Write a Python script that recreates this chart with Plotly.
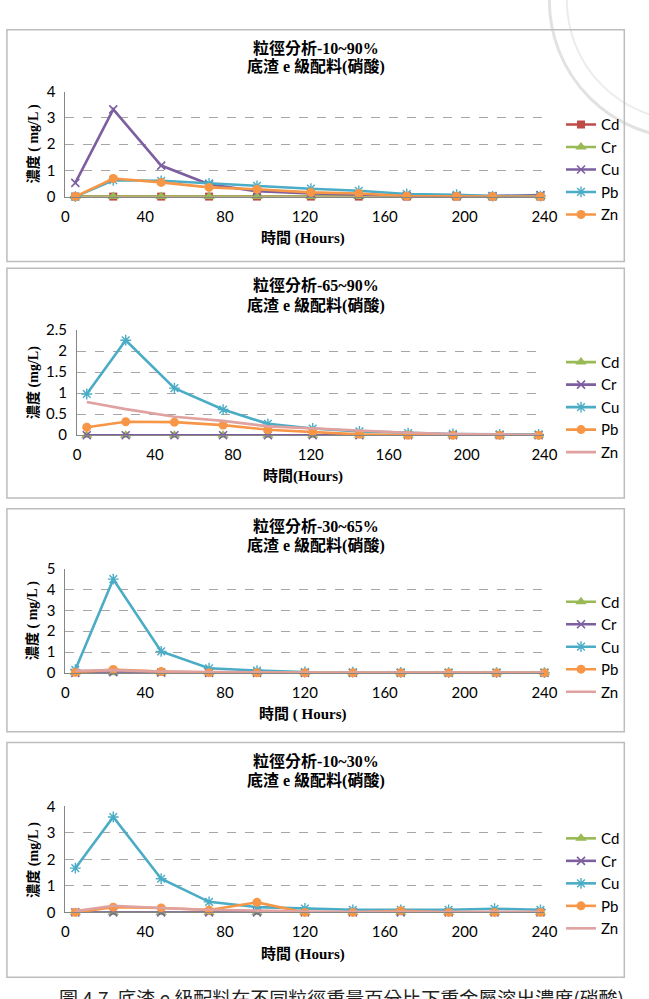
import plotly.graph_objects as go

W, H = 649, 999

def px(x):
    return x / W

def py(y):
    return 1 - y / H

# ---------------- data ----------------
metals = ["Cd", "Cr", "Cu", "Pb", "Zn"]
x_ticks = [0, 40, 80, 120, 160, 200, 240]

# Panel 1: 粒徑分析-10~90%
p1_hours = [5, 24, 48, 72, 96, 123, 147, 171, 196, 214, 238]
p1_Cd = [0, 0, 0, 0, 0, 0, 0, 0, 0, 0, 0]
p1_Cr = [0, 0, 0, 0, 0, 0, 0, 0, 0, 0, 0]
p1_Cu = [0.52, 3.32, 1.18, 0.47, 0.20, 0.12, 0.08, 0.03, 0.02, 0.02, 0.06]
p1_Pb = [0.00, 0.62, 0.60, 0.50, 0.41, 0.30, 0.22, 0.10, 0.07, 0.02, 0.02]
p1_Zn = [0.00, 0.69, 0.54, 0.35, 0.28, 0.16, 0.12, 0.02, 0.01, 0.00, 0.00]

# Panel 2: 粒徑分析-65~90%
p2_hours = [5, 25, 50, 75, 98, 121, 145, 170, 193, 217, 237]
p2_Cd = [0, 0, 0, 0, 0, 0, 0, 0, 0, 0, 0]
p2_Cr = [0, 0, 0, 0, 0, 0, 0, 0, 0, 0, 0]
p2_Cu = [0.98, 2.26, 1.12, 0.61, 0.27, 0.16, 0.09, 0.05, 0.03, 0.02, 0.02]
p2_Pb = [0.19, 0.32, 0.31, 0.24, 0.13, 0.08, 0.02, 0.00, 0.00, 0.00, 0.00]
p2_Zn = [0.79, 0.62, 0.44, 0.34, 0.21, 0.16, 0.12, 0.06, 0.03, 0.02, 0.01]

# Panel 3: 粒徑分析-30~65%
p3_hours = [5, 24, 48, 72, 96, 120, 144, 168, 192, 216, 240]
p3_Cd = [0, 0, 0, 0, 0, 0, 0, 0, 0, 0, 0]
p3_Cr = [0.00, 0.03, 0.01, 0.00, 0.00, 0.00, 0.00, 0.00, 0.00, 0.00, 0.00]
p3_Cu = [0.15, 4.50, 1.03, 0.22, 0.11, 0.04, 0.03, 0.02, 0.01, 0.01, 0.01]
p3_Pb = [0.02, 0.16, 0.06, 0.01, 0.00, 0.00, 0.00, 0.00, 0.00, 0.00, 0.00]
p3_Zn = [0.10, 0.13, 0.06, 0.03, 0.02, 0.01, 0.01, 0.01, 0.01, 0.01, 0.01]

# Panel 4: 粒徑分析-10~30%
p4_hours = [5, 24, 48, 72, 96, 120, 144, 168, 192, 215, 238]
p4_Cd = [0, 0, 0, 0, 0, 0, 0, 0, 0, 0, 0]
p4_Cr = [0, 0, 0, 0, 0, 0, 0, 0, 0, 0, 0]
p4_Cu = [1.67, 3.60, 1.27, 0.40, 0.20, 0.15, 0.10, 0.10, 0.10, 0.14, 0.10]
p4_Pb = [0.00, 0.20, 0.17, 0.09, 0.38, 0.00, 0.00, 0.06, 0.00, 0.00, 0.00]
p4_Zn = [0.05, 0.25, 0.17, 0.10, 0.07, 0.03, 0.02, 0.02, 0.02, 0.02, 0.02]

panel_titles = ["粒徑分析-10~90%", "粒徑分析-65~90%", "粒徑分析-30~65%", "粒徑分析-10~30%"]
panel_subtitle = "底渣 e 級配料(硝酸)"
y_titles = ["濃度 ( mg/L )", "濃度 (mg/L)", "濃度 ( mg/L )", "濃度 (mg/L )"]
x_titles = ["時間 (Hours)", "時間(Hours)", "時間 ( Hours)", "時間 (Hours)"]
y_max = [4, 2.5, 5, 4]
y_dtick = [1, 0.5, 1, 1]
caption = "圖 4.7  底渣 e 級配料在不同粒徑重量百分比下重金屬溶出濃度(硝酸)"

panels_data = [
    (p1_hours, [p1_Cd, p1_Cr, p1_Cu, p1_Pb, p1_Zn]),
    (p2_hours, [p2_Cd, p2_Cr, p2_Cu, p2_Pb, p2_Zn]),
    (p3_hours, [p3_Cd, p3_Cr, p3_Cu, p3_Pb, p3_Zn]),
    (p4_hours, [p4_Cd, p4_Cr, p4_Cu, p4_Pb, p4_Zn]),
]

# ---------------- styles ----------------
RED = "#BE4B48"
GREEN = "#98B954"
PURPLE = "#7D5FA0"
CYAN = "#4AACC5"
ORANGE = "#F79646"
PINK = "#E0A2A0"

st_sq = dict(color=RED, marker=dict(symbol="square", size=8))
st_tri = dict(color=GREEN, marker=dict(symbol="triangle-up", size=10))
st_x = dict(color=PURPLE, marker=dict(symbol="x-thin-open", size=8, line=dict(width=1.6, color=PURPLE)))
st_ast = dict(color=CYAN, marker=dict(symbol="asterisk-open", size=9, line=dict(width=1.4, color=CYAN)))
st_circ = dict(color=ORANGE, marker=dict(symbol="circle", size=9))
st_pink = dict(color=PINK, marker=None)

panel_styles = [
    [st_sq, st_tri, st_x, st_ast, st_circ],
    [st_tri, st_x, st_ast, st_circ, st_pink],
    [st_tri, st_x, st_ast, st_circ, st_pink],
    [st_tri, st_x, st_ast, st_circ, st_pink],
]

# ---------------- layout geometry (pixels) ----------------
boxes = [(3, 20, 637, 256), (3, 263, 637, 497), (3, 508, 637, 735), (3, 746, 637, 985)]
plot_x = [(63, 555), (75, 555), (63, 555), (63, 555)]
plot_y = [(83, 190), (326, 433), (569, 675), (811, 919)]   # (top, bottom)
title_y = [(39, 58), (280, 301), (525, 545), (765, 785)]
xtitle_y = [233, 475, 717, 962]
legend_top = [100, 342, 586, 827]

CJK_SERIF = "Liberation Serif, Noto Sans CJK TC, serif"
TICK_FONT = dict(family="Lato, Open Sans, sans-serif", size=15, color="#000000")

fig = go.Figure()
layout_axes = {}
annotations = []
shapes = []

# faint seal watermark in the top-right corner
shapes.append(dict(type="circle", xref="paper", yref="paper",
                   x0=px(560), x1=px(840), y0=py(130), y1=py(-150),
                   line=dict(color="#e2e2e2", width=3), layer="below"))
shapes.append(dict(type="circle", xref="paper", yref="paper",
                   x0=px(578), x1=px(822), y0=py(112), y1=py(-132),
                   line=dict(color="#ececec", width=2), layer="below"))

for i in range(4):
    n = i + 1
    xa = "x" if n == 1 else f"x{n}"
    ya = "y" if n == 1 else f"y{n}"
    leg = "legend" if n == 1 else f"legend{n}"
    hours, series = panels_data[i]
    for name, vals, st in zip(metals, series, panel_styles[i]):
        kw = dict(x=hours, y=vals, name=name, xaxis=xa, yaxis=ya, legend=leg,
                  legendgroup=f"g{n}{name}", cliponaxis=False,
                  line=dict(color=st["color"], width=2.6))
        if st["marker"] is None:
            kw["mode"] = "lines"
        else:
            m = dict(st["marker"])
            m.setdefault("color", st["color"])
            kw["mode"] = "lines+markers"
            kw["marker"] = m
        fig.add_trace(go.Scatter(**kw))

    x0, x1 = plot_x[i]
    yt, yb = plot_y[i]
    layout_axes["xaxis" if n == 1 else f"xaxis{n}"] = dict(
        domain=[px(x0), px(x1)], range=[0, 240], tickvals=x_ticks,
        showgrid=False, zeroline=False, showline=True, linecolor="#868686", linewidth=1,
        ticks="", tickfont=TICK_FONT, anchor=ya, ticklabelstandoff=6, fixedrange=True)
    layout_axes["yaxis" if n == 1 else f"yaxis{n}"] = dict(
        domain=[py(yb), py(yt)], range=[0, y_max[i]], dtick=y_dtick[i],
        showgrid=True, gridcolor="#a6a6a6", griddash="dash", gridwidth=1,
        zeroline=False, showline=True, linecolor="#868686", linewidth=1,
        ticks="", tickfont=TICK_FONT, anchor=xa, ticklabelstandoff=6, fixedrange=True)

    # panel box
    bx0, by0, bx1, by1 = boxes[i]
    shapes.append(dict(type="rect", xref="paper", yref="paper",
                       x0=px(bx0), x1=px(bx1), y0=py(by1), y1=py(by0),
                       line=dict(color="#bdbdbd", width=1.5), fillcolor="rgba(0,0,0,0)",
                       layer="below"))
    # titles
    cx = px(320)
    annotations.append(dict(text=f"<b>{panel_titles[i]}</b>", x=cx, y=py(title_y[i][0]),
                            xref="paper", yref="paper", showarrow=False,
                            font=dict(family=CJK_SERIF, size=16, color="#000000"),
                            xanchor="center", yanchor="middle"))
    annotations.append(dict(text=f"<b>{panel_subtitle}</b>", x=cx, y=py(title_y[i][1]),
                            xref="paper", yref="paper", showarrow=False,
                            font=dict(family=CJK_SERIF, size=16, color="#000000"),
                            xanchor="center", yanchor="middle"))
    # x axis title
    annotations.append(dict(text=f"<b>{x_titles[i]}</b>", x=px(307), y=py(xtitle_y[i]),
                            xref="paper", yref="paper", showarrow=False,
                            font=dict(family=CJK_SERIF, size=15, color="#000000"),
                            xanchor="center", yanchor="middle"))
    # y axis title
    annotations.append(dict(text=f"<b>{y_titles[i]}</b>", x=px(30), y=py((yb + yt) / 2),
                            xref="paper", yref="paper", showarrow=False, textangle=-90,
                            font=dict(family=CJK_SERIF, size=14, color="#000000"),
                            xanchor="center", yanchor="middle"))
    # legend
    layout_axes[leg] = dict(x=px(572), y=py(legend_top[i]), xanchor="left", yanchor="top",
                            font=dict(family="Lato, Open Sans, sans-serif", size=15, color="#000000"),
                            bgcolor="rgba(0,0,0,0)", tracegroupgap=6, itemwidth=30,
                            traceorder="normal")

annotations.append(dict(text=caption, x=px(347), y=py(990), xref="paper", yref="paper",
                        showarrow=False, xanchor="center", yanchor="top",
                        font=dict(family="Noto Sans CJK TC, sans-serif", size=19, color="#222222")))

fig.update_layout(
    width=W, height=H, margin=dict(l=0, r=0, t=0, b=0),
    paper_bgcolor="#ffffff", plot_bgcolor="rgba(0,0,0,0)",
    showlegend=True, annotations=annotations, shapes=shapes,
    **layout_axes,
)

fig.write_html("out.html")
